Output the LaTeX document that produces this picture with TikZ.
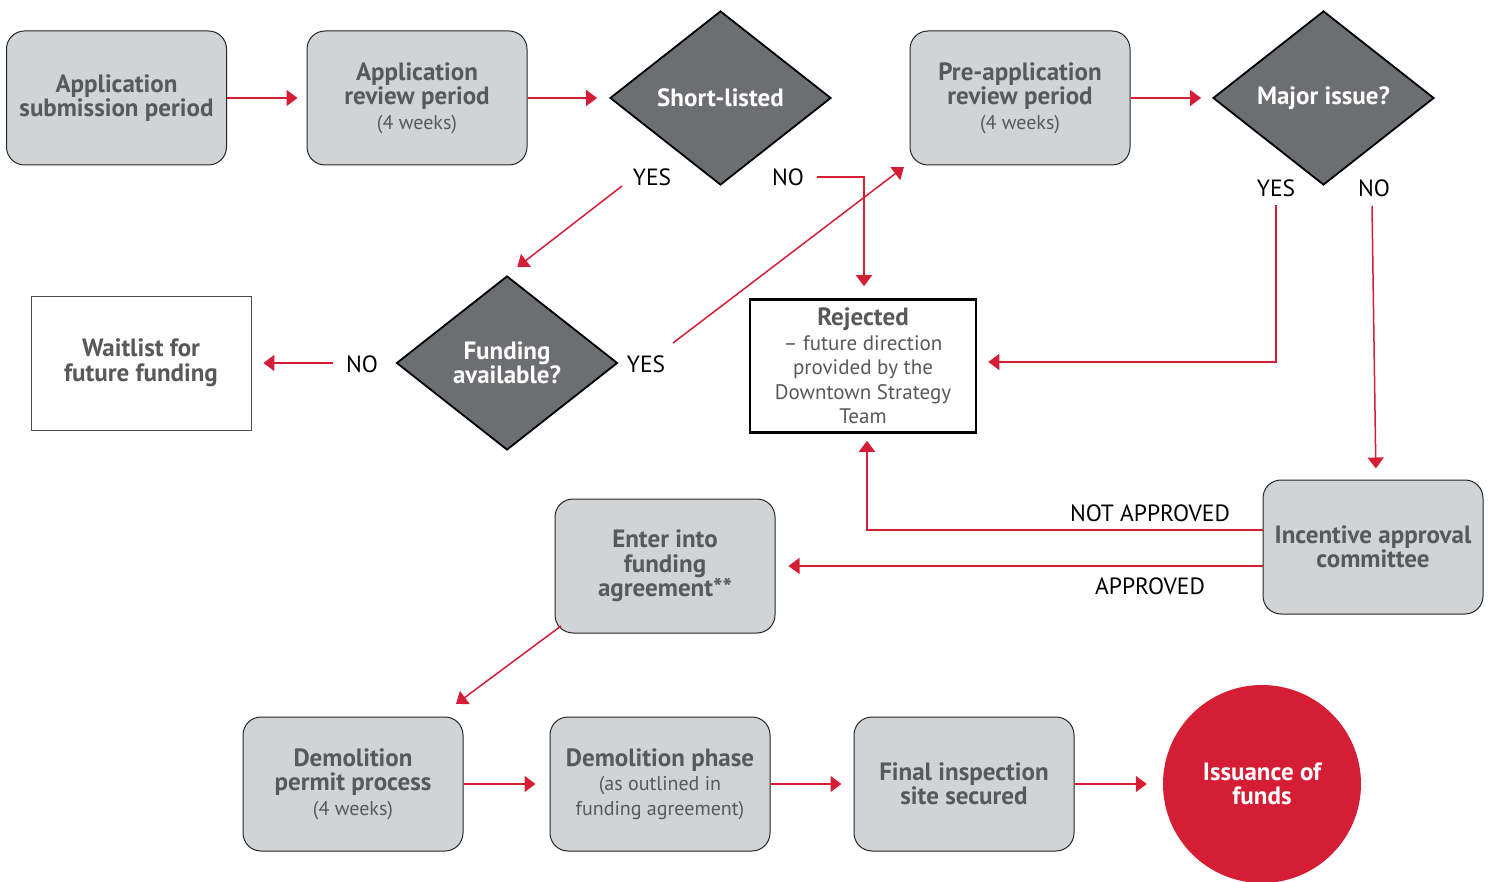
\documentclass[tikz,border=0pt]{standalone}
\usepackage{fontspec}
\setmainfont{PT Sans}
\usetikzlibrary{shapes.geometric,arrows.meta}
\definecolor{boxgray}{HTML}{D1D3D4}
\definecolor{diagray}{HTML}{6D6E71}
\definecolor{txtgray}{HTML}{58595B}
\definecolor{myred}{HTML}{D51D35}
\newcommand{\sm}{\mdseries\fontsize{20}{25}\selectfont}
\tikzset{
  bigbold/.style={font=\bfseries\fontsize{25}{24.5}\selectfont},
  procbox/.style={draw=black!85, line width=1pt, fill=boxgray, rounded corners=18pt,
    minimum width=220pt, minimum height=134pt, align=center, text=txtgray, bigbold},
  decision/.style={diamond, draw=black, line width=1.8pt, fill=diagray,
    minimum width=221pt, minimum height=174pt, inner sep=0pt, align=center,
    text=white, bigbold},
  flow/.style={draw=myred, line width=1.5pt, -{Triangle[length=11pt,width=16pt]}},
  lbl/.style={font=\fontsize{23.5}{25}\selectfont, text=black, inner sep=0pt},
}
\begin{document}
\begin{tikzpicture}[x=1pt,y=-1pt]
\useasboundingbox (0,0) rectangle (1494,882);
% nodes
\node[procbox] (box1) at (116.5,98) {Application\\submission period};
\node[procbox] (box2) at (417,98) {Application\\review period\\{\sm(4 weeks)}};
\node[decision] (short) at (720.5,98) {Short-listed};
\node[procbox] (pre) at (1020,98) {Pre-application\\review period\\{\sm(4 weeks)}};
\node[decision] (major) at (1323.5,98) {Major issue?};
\node[draw=black!70, line width=0.8pt, fill=white, minimum width=220pt, minimum height=134pt,
  align=center, text=txtgray, bigbold] (wait) at (141,363)
  {Waitlist for\\future funding};
\node[decision] (fund) at (507,363) {Funding\\available?};
\node[draw=black, line width=2.6pt, fill=white, minimum width=226pt, minimum height=133pt,
  align=center, text=txtgray, font=\fontsize{21}{24.5}\selectfont] (rej) at (863,366)
  {{\bfseries\fontsize{25}{24.5}\selectfont Rejected}\\\textendash{} future direction\\provided by the\\Downtown Strategy\\Team};
\node[procbox] (enter) at (665,566) {Enter into\\funding\\agreement**};
\node[procbox] (incent) at (1373,547) {Incentive approval\\committee};
\node[procbox] (dem1) at (353,784) {Demolition\\permit process\\{\sm(4 weeks)}};
\node[procbox] (dem2) at (660,784) {Demolition phase\\{\sm(as outlined in}\\{\sm funding agreement)}};
\node[procbox] (final) at (964,784) {Final inspection\\site secured};
\node[circle, fill=myred, minimum size=198pt, inner sep=0pt, align=center, text=white,
  bigbold] (issue) at (1262,784) {Issuance of\\funds};
% labels
\node[lbl] (ys) at (652,177) {YES};
\node[lbl] (ns) at (788,177) {NO};
\node[lbl] (fno) at (362,364) {NO};
\node[lbl] (fyes) at (646,364) {YES};
\node[lbl] (myes) at (1276,188) {YES};
\node[lbl] (mno) at (1374,188) {NO};
\node[lbl] (nap) at (1150,513) {NOT APPROVED};
\node[lbl] (ap) at (1150,586) {APPROVED};
% coordinates
\coordinate (ysS) at (622,186);
\coordinate (nsS) at (817,177);
\coordinate (fyS) at (673,343);
\coordinate (fyE) at (904,167);
\coordinate (fnS) at (333,363);
\coordinate (myS) at (1276,205);
\coordinate (mnS) at (1372,206);
\coordinate (eS) at (561,626);
\coordinate (eE) at (456,704);
% connectors
\draw[flow, shorten >=9pt] (box1.east) -- (box2.west);
\draw[flow, shorten >=12pt] (box2.east) -- (short.west);
\draw[flow, shorten >=11pt] (pre.east) -- (major.west);
\draw[flow, shorten >=13pt] (ysS) -- (fund.north);
\draw[flow, shorten >=12pt] (nsS) -| ([xshift=1pt]rej.north);
\draw[flow] (fyS) -- (fyE);
\draw[flow, shorten >=12pt] (fnS) -- (wait.east);
\draw[flow, shorten >=11pt] (myS) |- ([yshift=4pt]rej.east);
\draw[flow, shorten >=11pt] (mnS) -- ([xshift=3pt]incent.north);
\draw[flow, shorten >=7pt] ([yshift=17pt]incent.west) -| ([xshift=4pt]rej.south);
\draw[flow, shorten >=13pt] ([yshift=-19pt]incent.west) -- (enter.east);
\draw[flow] (eS) -- (eE);
\draw[flow, shorten >=14pt] (dem1.east) -- (dem2.west);
\draw[flow, shorten >=12pt] (dem2.east) -- (final.west);
\draw[flow, shorten >=16pt] (final.east) -- (issue.west);
\end{tikzpicture}
\end{document}
